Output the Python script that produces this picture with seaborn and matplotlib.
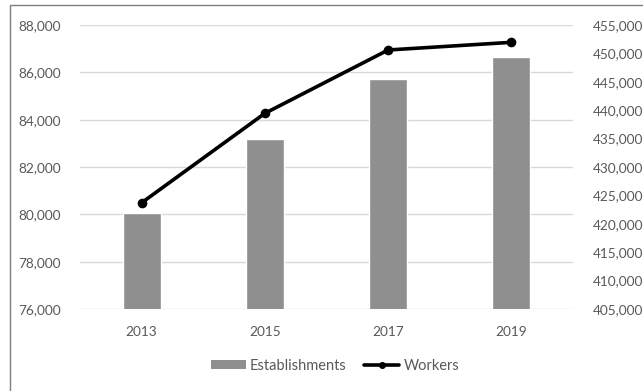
import matplotlib
matplotlib.use("Agg")
import matplotlib.pyplot as plt
from matplotlib.lines import Line2D
from matplotlib.patches import Patch, Rectangle
import seaborn as sns
import pandas as pd

years = ["2013", "2015", "2017", "2019"]
establishments = [80050, 83170, 85730, 86630]
workers = [423700, 439450, 450600, 451950]

left_ticks = [76000, 78000, 80000, 82000, 84000, 86000, 88000]
right_ticks = [405000, 410000, 415000, 420000, 425000, 430000, 435000,
               440000, 445000, 450000, 455000]

df = pd.DataFrame({"Year": years, "Establishments": establishments, "Workers": workers})

sns.set_theme(style="white")
plt.rcParams["font.family"] = ["Lato", "DejaVu Sans"]
text_color = "#595959"
grid_color = "#d9d9d9"
bar_color = "#8f8f8f"

fig = plt.figure(figsize=(6.43, 3.91), dpi=100)
ax = fig.add_axes([80 / 643, 1 - 309 / 391, 493 / 643, 284 / 391])

sns.barplot(data=df, x="Year", y="Establishments", order=years, color=bar_color,
            width=0.31, saturation=1, ax=ax, zorder=2)
ax.set_ylim(left_ticks[0], left_ticks[-1])
ax.set_yticks(left_ticks)
ax.set_yticklabels([f"{v:,}" for v in left_ticks])
ax.set_xlim(-0.5, 3.5)
ax.yaxis.grid(True, color=grid_color, linewidth=1.0, zorder=0)
ax.set_axisbelow(True)
ax.set_xlabel("")
ax.set_ylabel("")
for s in ax.spines.values():
    s.set_visible(False)
ax.tick_params(axis="y", length=0, pad=14, labelsize=9.8, labelcolor=text_color)
ax.tick_params(axis="x", length=0, pad=12, labelsize=9.8, labelcolor=text_color)

ax2 = ax.twinx()
sns.pointplot(data=df, x="Year", y="Workers", order=years, color="black",
              markers="o", markersize=5, linewidth=2.6, ax=ax2, zorder=3)
ax2.set_ylim(right_ticks[0], right_ticks[-1])
ax2.set_yticks(right_ticks)
ax2.set_yticklabels([f"{v:,}" for v in right_ticks])
ax2.set_xlim(-0.5, 3.5)
ax2.set_ylabel("")
ax2.set_xlabel("")
for s in ax2.spines.values():
    s.set_visible(False)
ax2.tick_params(axis="y", length=0, pad=14, labelsize=9.8, labelcolor=text_color)

handles = [
    Patch(facecolor=bar_color, edgecolor="none", label="Establishments"),
    Line2D([0], [0], color="black", linewidth=2.6, marker="o", markersize=4,
           label="Workers"),
]
fig.legend(handles=handles, loc="center", bbox_to_anchor=(335 / 643, 1 - 366 / 391),
           ncol=2, frameon=False, fontsize=10.5, labelcolor=text_color,
           handlelength=2.4, handleheight=0.6, handletextpad=0.3,
           columnspacing=1.2, numpoints=1)

# chart frame
fig.patches.append(Rectangle((10 / 643, -0.05), 1.1, 1 - 5 / 391 + 0.05,
                             transform=fig.transFigure, fill=False,
                             edgecolor="#7f7f7f", linewidth=1.0))

fig.savefig("out.png", dpi=100)
